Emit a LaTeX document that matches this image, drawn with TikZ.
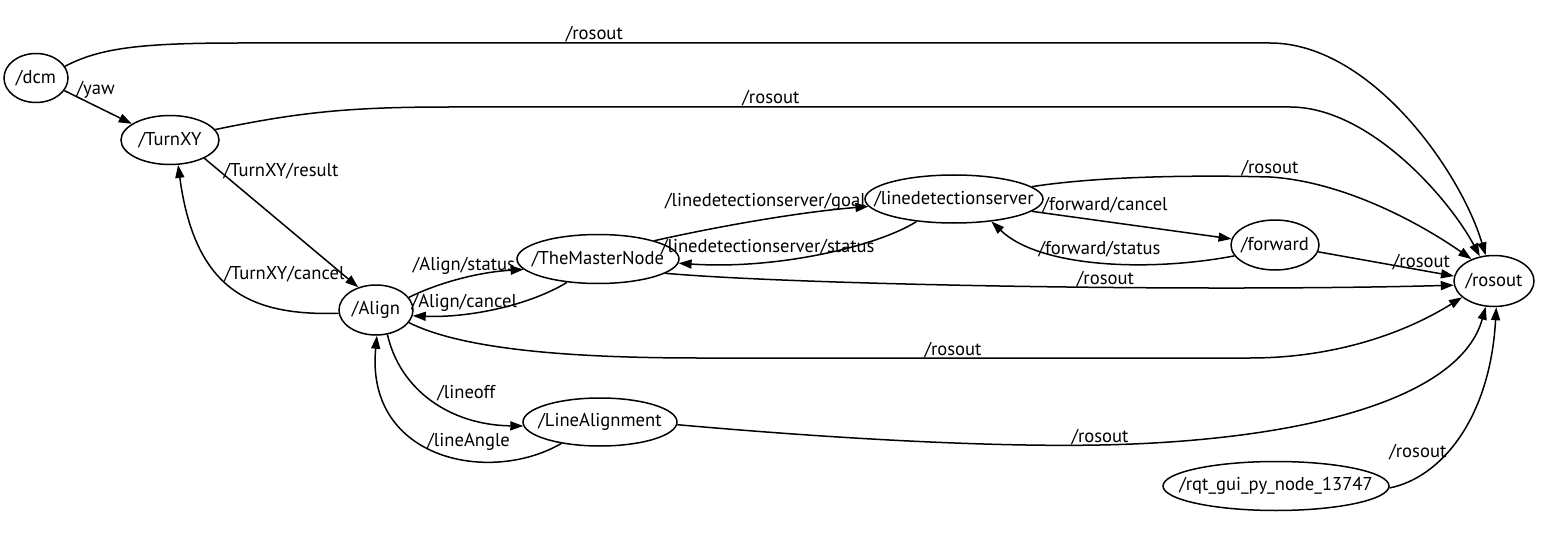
\documentclass[tikz,border=0pt]{standalone}
\usepackage{fontspec}
\setmainfont{PT Sans}
\usetikzlibrary{arrows.meta,positioning,shapes.geometric}

\begin{document}
\begin{tikzpicture}[x=0.5pt,y=-0.5pt,
    rosnode/.style={draw, ellipse, line width=0.75pt, inner xsep=-14pt, inner ysep=0pt,
      minimum height=24.5pt, font=\fontsize{9.3}{11}\selectfont},
    topic/.style={-{Triangle[length=6.5pt,width=4.5pt]}, line width=0.75pt},
    lbl/.style={inner sep=0pt, font=\fontsize{9.3}{11}\selectfont}]
  \useasboundingbox (0,0) rectangle (1548,535);

  % 節點
  \node[rosnode, minimum width=32pt]  (dcm)       at (36,78)    {/dcm};
  \node[rosnode, minimum width=49pt]  (turnxy)    at (170,140)  {/TurnXY};
  \node[rosnode, minimum width=37pt, minimum height=25pt] (align) at (376,310) {/Align};
  \node[rosnode, minimum width=81pt]  (tmn)       at (598,259)  {/TheMasterNode};
  \node[rosnode, minimum width=89pt, minimum height=24pt] (lds) at (954,199) {/linedetectionserver};
  \node[rosnode, minimum width=44pt, minimum height=25pt] (fwd) at (1275,245) {/forward};
  \node[rosnode, minimum width=40pt, minimum height=25.5pt] (rosout) at (1494,281) {/rosout};
  \node[rosnode, minimum width=77pt, minimum height=24pt] (linealign) at (600,422) {/LineAlignment};
  \node[rosnode, minimum width=113pt] (rqt)       at (1276,486) {/rqt\_gui\_py\_node\_13747};

  % /dcm, /TurnXY
  \draw[topic] (dcm.22) .. controls (100,48) and (140,43) .. (240,43)
    -- (1270,43) node[lbl, pos=0.344, anchor=base, yshift=1.5pt] {/rosout}
    .. controls (1370,43) and (1460,170) .. (rosout.108);
  \draw[topic] (dcm.-24) -- (turnxy.157)
    node[lbl, pos=0.17, anchor=base west, yshift=1pt] {/yaw};
  \draw[topic] (turnxy.13) .. controls (300,112) and (350,107) .. (450,107)
    -- (1290,107) node[lbl, pos=0.382, anchor=base, yshift=1.5pt] {/rosout}
    .. controls (1370,107) and (1450,200) .. (rosout.120);
  \draw[topic] (turnxy.-28) -- (align.128)
    node[lbl, pos=0.12, anchor=base west, yshift=-1.5pt] {/TurnXY/result};
  \draw[topic] (align.185) .. controls (250,316) and (195,290) .. (turnxy.-72)
    node[lbl, pos=0.55, anchor=base west] {/TurnXY/cancel};

  % /Align, /TheMasterNode
  \draw[topic] (align.21) .. controls (440,282) and (480,272) .. (tmn.188)
    node[lbl, pos=0.52, anchor=base, yshift=4pt] {/Align/status};
  \draw[topic] (tmn.217) .. controls (530,305) and (470,318) .. (align.-9)
    node[lbl, pos=0.7, anchor=base, yshift=3pt] {/Align/cancel};
  \draw[topic] (tmn.18) .. controls (720,226) and (800,212) .. (lds.185)
    node[lbl, pos=1, anchor=base east, xshift=-1pt] {/linedetectionserver/goal};
  \draw[topic] (lds.211) .. controls (880,245) and (780,270) .. (tmn.-3)
    node[lbl, pos=0.7, anchor=base, yshift=4.5pt] {/linedetectionserver/status};
  \draw[topic] (tmn.-12) .. controls (800,285) and (1200,292) .. (rosout.186)
    node[lbl, pos=0.6, anchor=base, yshift=1.5pt] {/rosout};

  % /linedetectionserver, /forward
  \draw[topic] (lds.9) .. controls (1100,176) and (1200,175) .. (1270,177)
    node[lbl, anchor=base, yshift=1.5pt] {/rosout}
    .. controls (1350,182) and (1430,230) .. (rosout.136);
  \draw[topic] (lds.-9) -- (fwd.172)
    node[lbl, pos=0.05, anchor=base west, yshift=1pt] {/forward/cancel};
  \draw[topic] (fwd.195) .. controls (1150,272) and (1040,268) .. (lds.-31)
    node[lbl, pos=0.5, anchor=base, yshift=4pt] {/forward/status};
  \draw[topic] (fwd.-9) -- (rosout.173)
    node[lbl, pos=0.76, anchor=base, yshift=1.5pt] {/rosout};

  % /Align, /LineAlignment
  \draw[topic] (align.-21) .. controls (460,348) and (560,358) .. (700,358)
    -- (1250,358) node[lbl, pos=0.46, anchor=base, yshift=1.5pt] {/rosout}
    .. controls (1340,358) and (1410,330) .. (rosout.207);
  \draw[topic] (align.-65) .. controls (400,390) and (450,425) .. (linealign.183)
    node[lbl, pos=0.5, anchor=base west, xshift=2pt, yshift=1pt] {/lineoff};
  \draw[topic] (linealign.209) .. controls (490,485) and (365,460) .. (align.-88)
    node[lbl, pos=0.55, anchor=base west] {/lineAngle};
  \draw[topic] (linealign.-2) .. controls (850,440) and (1000,447) .. (1100,445)
    node[lbl, anchor=base, yshift=1.5pt] {/rosout}
    .. controls (1300,441) and (1460,400) .. (rosout.252);

  % /rqt_gui_py_node_13747
  \draw[topic] (rqt.-1) .. controls (1440,478) and (1490,420) .. (rosout.-85)
    node[lbl, pos=0.4, anchor=east] {/rosout};
\end{tikzpicture}
\end{document}
